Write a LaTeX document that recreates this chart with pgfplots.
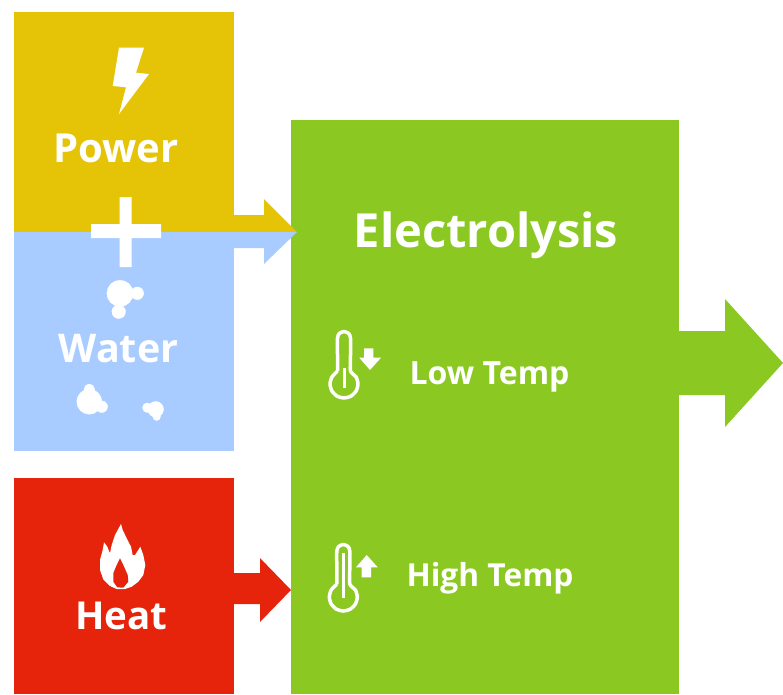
\documentclass[border=0pt]{standalone}
\usepackage{fontspec}
\setmainfont{Open Sans}
\usepackage{pgfplots}
\usepackage{pgfplotstable}
\pgfplotsset{compat=1.18}
\definecolor{cyellow}{HTML}{E5C408}
\definecolor{cblue}{HTML}{A8CCFF}
\definecolor{cred}{HTML}{E6240B}
\definecolor{cgreen}{HTML}{8BC922}
\newcommand{\lbl}[2]{\fontsize{#1}{#1}\selectfont\bfseries #2}
% thermometer outline, pixel coordinates
\pgfplotstableread{
x y
337.5 371
337.5 355
337.5 338
339.4 333.4
344 331.5
348.6 333.4
350.5 338
350.5 355
350.5 371
356.1 377
358 384
356.1 391
351 396.1
344 398
337 396.1
331.9 391
330 384
331.9 377
337.5 371
}\thermo
\begin{document}
\begin{tikzpicture}
\path (0,0) rectangle (783pt,694pt);
\begin{axis}[
  at={(0,0)}, anchor=south west,
  scale only axis, width=783pt, height=694pt,
  xmin=0, xmax=783, ymin=0, ymax=694,
  y dir=reverse, hide axis,
  every axis plot/.append style={draw=none},
  drop/.style={only marks, mark=*, mark size=#1, mark options={fill=white, draw=white}},
]
% boxes
\addplot[fill=cyellow] coordinates {(14,12) (234,12) (234,232) (14,232)} -- cycle;
\addplot[fill=cblue] coordinates {(14,232) (234,232) (234,451) (14,451)} -- cycle;
\addplot[fill=cred] coordinates {(14,478) (234,478) (234,694) (14,694)} -- cycle;
\addplot[fill=cgreen] coordinates {(291,120) (679,120) (679,694) (291,694)} -- cycle;
% arrows
\addplot[fill=cyellow] coordinates {(234,215) (264,215) (264,199) (297,232) (234,232)} -- cycle;
\addplot[fill=cblue] coordinates {(234,232) (297,232) (264,264) (264,248) (234,248)} -- cycle;
\addplot[fill=cred] coordinates {(234,573) (260,573) (260,558) (291,590) (260,622) (260,604) (234,604)} -- cycle;
\addplot[fill=cgreen] coordinates {(679,331) (725,331) (725,299) (783,363) (725,427) (725,395) (679,395)} -- cycle;
% plus
\addplot[fill=white] coordinates {(91,224) (119.5,224) (119.5,197) (131.5,197) (131.5,224) (161,224) (161,238) (131.5,238) (131.5,267) (119.5,267) (119.5,238) (91,238)} -- cycle;
% bolt
\addplot[fill=white] coordinates {(119,47.7) (144,47.7) (136,72.7) (149,74) (119,114) (126,87.3) (112.7,86)} -- cycle;
% water drops
\addplot[drop=13.1pt] coordinates {(120,293.3)};
\addplot[drop=6.3pt] coordinates {(137.3,293.3)};
\addplot[drop=6.8pt] coordinates {(118.7,311.7)};
\addplot[drop=12.5pt] coordinates {(89.3,401.7)};
\addplot[drop=5.3pt] coordinates {(89.3,389.3)};
\addplot[drop=5.8pt] coordinates {(101.7,406.7)};
\addplot[drop=7.8pt] coordinates {(155.7,409.3)};
\addplot[drop=4.8pt] coordinates {(147.3,407.7)};
\addplot[drop=3.8pt] coordinates {(156.7,416.7)};
% flame
\addplot[fill=white] coordinates {(121,524) (122.7,530) (126.7,538.3) (131,546.7) (132.7,555) (135,555) (138.3,550) (140.3,546.7) (143.3,555) (145.3,565) (143.3,575) (138.3,581.7) (131.7,586.7) (125,589) (116.7,589) (110,586) (103.3,579.3) (100,570) (100,560) (102.7,550) (104,542.3) (107.3,546.7) (110,553.3) (111.7,545) (115,535)} -- cycle;
\addplot[fill=cred] coordinates {(120,558.3) (123.3,565) (127.7,575) (128.3,581.7) (123.3,587.7) (117.3,587.3) (113.3,581.7) (113.3,573.3) (116.7,565)} -- cycle;
% thermometers
\addplot[draw=white, line width=3.5pt, smooth, tension=0.4, line join=round] table[x=x, y=y] {\thermo};
\addplot[draw=white, line width=2.5pt] coordinates {(344.3,368) (344.3,388)};
\addplot[fill=white] coordinates {(364,348.3) (373.3,348.3) (373.3,357.7) (381,357.7) (370,370) (359.3,357.7) (364,357.7)} -- cycle;
\addplot[draw=white, line width=3.5pt, smooth, tension=0.4, line join=round] table[x expr=\thisrow{x}-0.7, y expr=\thisrow{y}+213] {\thermo};
\addplot[draw=white, line width=3.3pt] coordinates {(343.5,553) (343.5,598)};
\addplot[fill=white] coordinates {(361.7,577.3) (361.7,567.3) (356,567.3) (366.7,555) (377.7,567.3) (371,567.3) (371,577.3)} -- cycle;
% labels
\node[white, anchor=base] at (axis cs:116,162.5) {\lbl{40}{Power}};
\node[white, anchor=base] at (axis cs:118.5,362.5) {\lbl{39.5}{Water}};
\node[white, anchor=base] at (axis cs:121.5,629.5) {\lbl{38.5}{Heat}};
\node[white, anchor=base] at (axis cs:486,247) {\lbl{47}{Electrolysis}};
\node[white, anchor=base] at (axis cs:489.5,384) {\lbl{32}{Low Temp}};
\node[white, anchor=base] at (axis cs:490,586) {\lbl{31.7}{High Temp}};
\end{axis}
\end{tikzpicture}
\end{document}
